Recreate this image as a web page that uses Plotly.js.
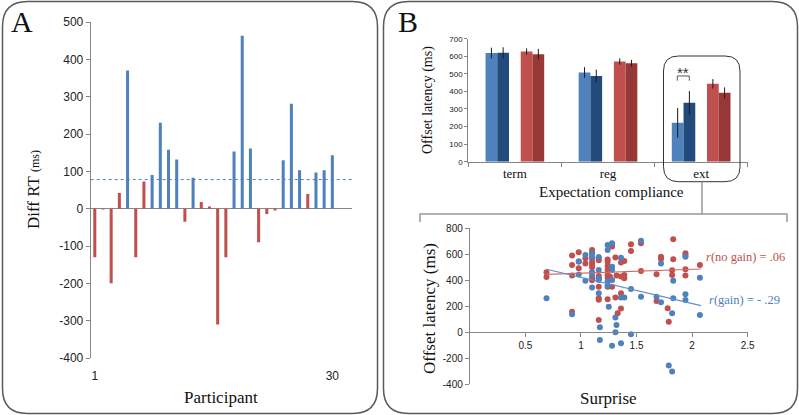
<!DOCTYPE html>
<html><head><meta charset="utf-8">
<script src="https://cdn.plot.ly/plotly-3.0.1.min.js"></script>
<style>html,body{margin:0;padding:0;background:#fff}#chart{width:799px;height:415px}</style>
</head><body><div id="chart"></div>
<script>
// ---------- Panel A data ----------
const participants = [1,2,3,4,5,6,7,8,9,10,11,12,13,14,15,16,17,18,19,20,21,22,23,24,25,26,27,28,29,30];
const diffRT = [-130,-2,-200,42,370,-130,73,90,230,158,132,-35,83,18,6,-310,-130,153,463,161,-90,-14,-5,130,281,103,39,97,103,143];
const diffThreshold = 78;
const participantTicks = [1, 30];
const diffTicks = [-400,-300,-200,-100,0,100,200,300,400,500];

// ---------- Panel B (top) data ----------
const compliance = ['term','reg','ext'];
const gainLow = [618, 508, 221];      const gainLowErr = [31, 30, 85];
const gainHigh = [620, 488, 335];     const gainHighErr = [31, 36, 67];
const noGainLow = [627, 570, 443];    const noGainLowErr = [18, 18, 27];
const noGainHigh = [612, 560, 392];   const noGainHighErr = [30, 19, 31];
const latencyTicks = [0,100,200,300,400,500,600,700];

// ---------- Panel B (bottom) scatter data ----------
const noGainX = [0.69,0.69,0.92,0.92,0.92,0.92,0.98,0.98,0.98,1.04,1.04,
  1.1,1.1,1.1,1.1,1.1,1.1,1.1,1.1,1.1,
  1.16,1.16,1.16,1.16,1.16,1.16,1.16,1.16,
  1.24,1.24,1.24,1.24,1.24,1.24,1.24,1.24,
  1.28,1.28,1.26,1.28,1.31,1.32,1.31,1.33,1.36,1.36,1.36,1.36,1.39,1.39,1.39,
  1.45,1.45,1.54,1.54,1.68,1.68,1.72,1.72,1.78,1.79,1.83,1.83,1.82,1.82,1.94,1.94,1.94,1.94,2.07];
const noGainY = [462,426,590,518,436,159,615,545,493,570,530,
  633,610,570,540,520,500,460,420,400,
  570,555,433,415,350,262,250,95,
  560,540,510,480,440,420,350,255,
  672,660,430,350,575,436,267,146,536,430,300,184,549,441,415,
  677,625,685,472,446,241,582,564,185,82,715,562,477,441,608,590,485,436,518];
const gainX = [0.69,0.92,0.98,0.98,1.04,1.04,
  1.1,1.1,1.1,1.1,1.1,
  1.16,1.16,1.16,1.16,1.16,1.17,1.17,
  1.24,1.24,1.24,1.25,1.24,
  1.28,1.28,1.28,1.28,1.28,
  1.31,1.32,1.31,1.36,1.36,1.36,1.39,1.45,1.45,1.54,1.54,1.68,1.72,1.72,
  1.79,1.82,1.82,1.83,1.83,1.94,1.94,1.94,2.07,2.07];
const gainY = [262,138,545,445,595,397,
  608,582,460,436,344,
  580,480,402,415,300,38,-59,
  672,633,359,197,390,
  685,505,480,402,-103,
  113,56,0,574,267,-85,267,333,-15,705,274,274,530,231,
  -256,-302,146,262,397,582,292,249,420,133];
const fitX = [0.69, 2.08];
const noGainFitY = [446, 487];
const gainFitY = [485, 205];
const surpriseTicks = [0.5, 1, 1.5, 2, 2.5];
const surpriseLatencyTicks = [-400,-200,0,200,400,600,800];

// ---------- colours / fonts ----------
const BLUE = '#4f81bd', DBLUE = '#234a7c', RED = '#c0504d', DRED = '#983836';
const AX = '#868686';
const SANS = 'Liberation Sans, Arial, sans-serif';
const SERIF = 'Liberation Serif, serif';
const W = 799, H = 415;
const px = x => x / W, py = y => 1 - y / H;
const lbl = v => String(v); // plain hyphen-minus like the original

function rr(x0, y0, x1, y1, r) {
  const P = (x, y) => px(x).toFixed(5) + ',' + py(y).toFixed(5);
  return 'M' + P(x0 + r, y0) + ' L' + P(x1 - r, y0) + ' Q' + P(x1, y0) + ' ' + P(x1, y0 + r) +
    ' L' + P(x1, y1 - r) + ' Q' + P(x1, y1) + ' ' + P(x1 - r, y1) +
    ' L' + P(x0 + r, y1) + ' Q' + P(x0, y1) + ' ' + P(x0, y1 - r) +
    ' L' + P(x0, y0 + r) + ' Q' + P(x0, y0) + ' ' + P(x0 + r, y0) + ' Z';
}
function pline(pts) {
  return pts.map((p, i) => (i ? 'L' : 'M') + px(p[0]).toFixed(5) + ',' + py(p[1]).toFixed(5)).join(' ');
}
function note(text, x, y, size, opts) {
  return Object.assign({text: text, xref: 'paper', yref: 'paper', x: px(x), y: py(y), xanchor: 'center', yanchor: 'middle',
    showarrow: false, font: {family: SERIF, size: size, color: '#111'}}, opts || {});
}

const errStyle = (arr) => ({type: 'data', array: arr, visible: true, color: '#1a1a1a', thickness: 1, width: 0});
const barW = 0.126;

const traces = [
  // Panel A
  {type: 'bar', x: participants, y: diffRT, xaxis: 'x', yaxis: 'y', width: 0.37,
   marker: {color: diffRT.map(v => v > diffThreshold ? BLUE : RED)}, name: 'Diff RT', showlegend: false},
  // Panel B top
  {type: 'bar', x: compliance, y: gainLow, error_y: errStyle(gainLowErr), xaxis: 'x2', yaxis: 'y2',
   width: barW, offset: -0.315, marker: {color: BLUE}, name: 'gain low', showlegend: false},
  {type: 'bar', x: compliance, y: gainHigh, error_y: errStyle(gainHighErr), xaxis: 'x2', yaxis: 'y2',
   width: barW, offset: -0.189, marker: {color: DBLUE}, name: 'gain high', showlegend: false},
  {type: 'bar', x: compliance, y: noGainLow, error_y: errStyle(noGainLowErr), xaxis: 'x2', yaxis: 'y2',
   width: barW, offset: 0.063, marker: {color: RED}, name: 'no gain low', showlegend: false},
  {type: 'bar', x: compliance, y: noGainHigh, error_y: errStyle(noGainHighErr), xaxis: 'x2', yaxis: 'y2',
   width: barW, offset: 0.189, marker: {color: DRED}, name: 'no gain high', showlegend: false},
  // Panel B bottom
  {type: 'scatter', mode: 'markers', x: noGainX, y: noGainY, xaxis: 'x3', yaxis: 'y3',
   marker: {color: RED, size: 6}, name: 'no gain', showlegend: false},
  {type: 'scatter', mode: 'markers', x: gainX, y: gainY, xaxis: 'x3', yaxis: 'y3',
   marker: {color: BLUE, size: 6}, name: 'gain', showlegend: false},
  {type: 'scatter', mode: 'lines', x: fitX, y: noGainFitY, xaxis: 'x3', yaxis: 'y3',
   line: {color: '#d06a66', width: 1.2}, showlegend: false},
  {type: 'scatter', mode: 'lines', x: fitX, y: gainFitY, xaxis: 'x3', yaxis: 'y3',
   line: {color: '#5f8fc9', width: 1.2}, showlegend: false}
];

const layout = {
  width: W, height: H,
  margin: {l: 0, r: 0, t: 0, b: 0, pad: 0},
  paper_bgcolor: '#fff', plot_bgcolor: 'rgba(0,0,0,0)',
  barmode: 'overlay', showlegend: false,
  font: {family: SANS, color: '#222'},
  // Panel A axes
  xaxis: {domain: [px(90.7), px(352)], range: [0.5, 32.4], tickvals: participantTicks, ticktext: participantTicks.map(lbl),
    showgrid: false, zeroline: false, showline: false, ticks: '', ticklabelstandoff: 9,
    tickfont: {size: 12, family: SANS, color: '#222'}, anchor: 'y'},
  yaxis: {domain: [py(358), py(22)], range: [-400, 500], tickvals: diffTicks, ticktext: diffTicks.map(lbl), showgrid: false,
    showline: true, linecolor: AX, linewidth: 1, ticks: 'outside', ticklen: 4, tickcolor: AX,
    zeroline: true, zerolinecolor: AX, zerolinewidth: 1,
    tickfont: {size: 12, family: SANS, color: '#222'}, anchor: 'x'},
  // Panel B top axes
  xaxis2: {domain: [px(468.3), px(747.7)], type: 'category', range: [-0.5, 2.5], tickson: 'boundaries',
    ticks: 'outside', ticklen: 4, tickcolor: AX, showline: true, linecolor: AX, showgrid: false,
    tickfont: {size: 13, family: SERIF, color: '#111'}, anchor: 'y2'},
  yaxis2: {domain: [py(161.7), py(38.7)], range: [0, 700], tickvals: latencyTicks, ticktext: latencyTicks.map(lbl), showgrid: false,
    showline: true, linecolor: AX, ticks: 'outside', ticklen: 3, tickcolor: AX, zeroline: false,
    tickfont: {size: 8, family: SANS, color: '#222'}, anchor: 'x2'},
  // Panel B bottom axes
  xaxis3: {domain: [px(469.8), px(747.7)], range: [0, 2.5], tickvals: surpriseTicks, ticktext: surpriseTicks.map(lbl),
    anchor: 'free', position: py(332.3), showline: true, linecolor: AX, ticks: 'outside', ticklen: 4, tickcolor: AX,
    showgrid: false, zeroline: false, tickfont: {size: 10, family: SANS, color: '#222'}},
  yaxis3: {domain: [py(384.3), py(228.3)], range: [-400, 800], tickvals: surpriseLatencyTicks, ticktext: surpriseLatencyTicks.map(lbl),
    showgrid: false, showline: true, linecolor: AX, ticks: 'outside', ticklen: 4, tickcolor: AX, zeroline: false,
    tickfont: {size: 10, family: SANS, color: '#222'}, anchor: 'x3'},
  shapes: [
    {type: 'path', xref: 'paper', yref: 'paper', path: rr(2.5, 1.5, 377.5, 413.5, 25), line: {color: '#5a5a5a', width: 1.5}, layer: 'below'},
    {type: 'path', xref: 'paper', yref: 'paper', path: rr(383.5, 1.5, 797.5, 413.5, 25), line: {color: '#5a5a5a', width: 1.5}, layer: 'below'},
    {type: 'line', xref: 'x domain', yref: 'y', x0: 0, x1: 1, y0: diffThreshold, y1: diffThreshold,
     line: {color: BLUE, width: 1, dash: 'dot'}},
    {type: 'path', xref: 'paper', yref: 'paper', path: rr(663.5, 56, 740, 181.7, 15), line: {color: '#333', width: 1}},
    {type: 'path', xref: 'paper', yref: 'paper', path: pline([[702, 181.7], [702, 214]]), line: {color: '#999', width: 1.5}},
    {type: 'path', xref: 'paper', yref: 'paper', path: pline([[420, 222], [420, 214], [787, 214], [787, 222]]), line: {color: '#999', width: 1.5}},
    {type: 'path', xref: 'paper', yref: 'paper', path: pline([[677.3, 80.7], [677.3, 76], [689.3, 76], [689.3, 80.7]]), line: {color: '#555', width: 1}}
  ],
  annotations: [
    note('A', 22, 21, 30),
    note('B', 408, 21, 30),
    note('Diff RT <span style="font-size:12px">(ms)</span>', 34, 190, 17, {textangle: -90}),
    note('Participant', 221, 397, 17),
    note('Offset latency (ms)', 428, 100, 14, {textangle: -90}),
    note('Expectation compliance', 611, 192, 15),
    note('**', 683.3, 72, 15, {font: {family: SANS, size: 15, color: '#333'}}),
    note('Offset latency (ms)', 429, 308, 17, {textangle: -90}),
    note('Surprise', 608, 398, 17),
    note('<i>r</i>(no gain) = .06', 704, 257, 12.5, {xanchor: 'left', font: {family: SERIF, size: 12.5, color: RED}}),
    note('<i>r</i>(gain) = - .29', 707, 300, 12.5, {xanchor: 'left', font: {family: SERIF, size: 12.5, color: BLUE}})
  ]
};

Plotly.newPlot('chart', traces, layout, {staticPlot: true, displayModeBar: false});
</script>
</body></html>
